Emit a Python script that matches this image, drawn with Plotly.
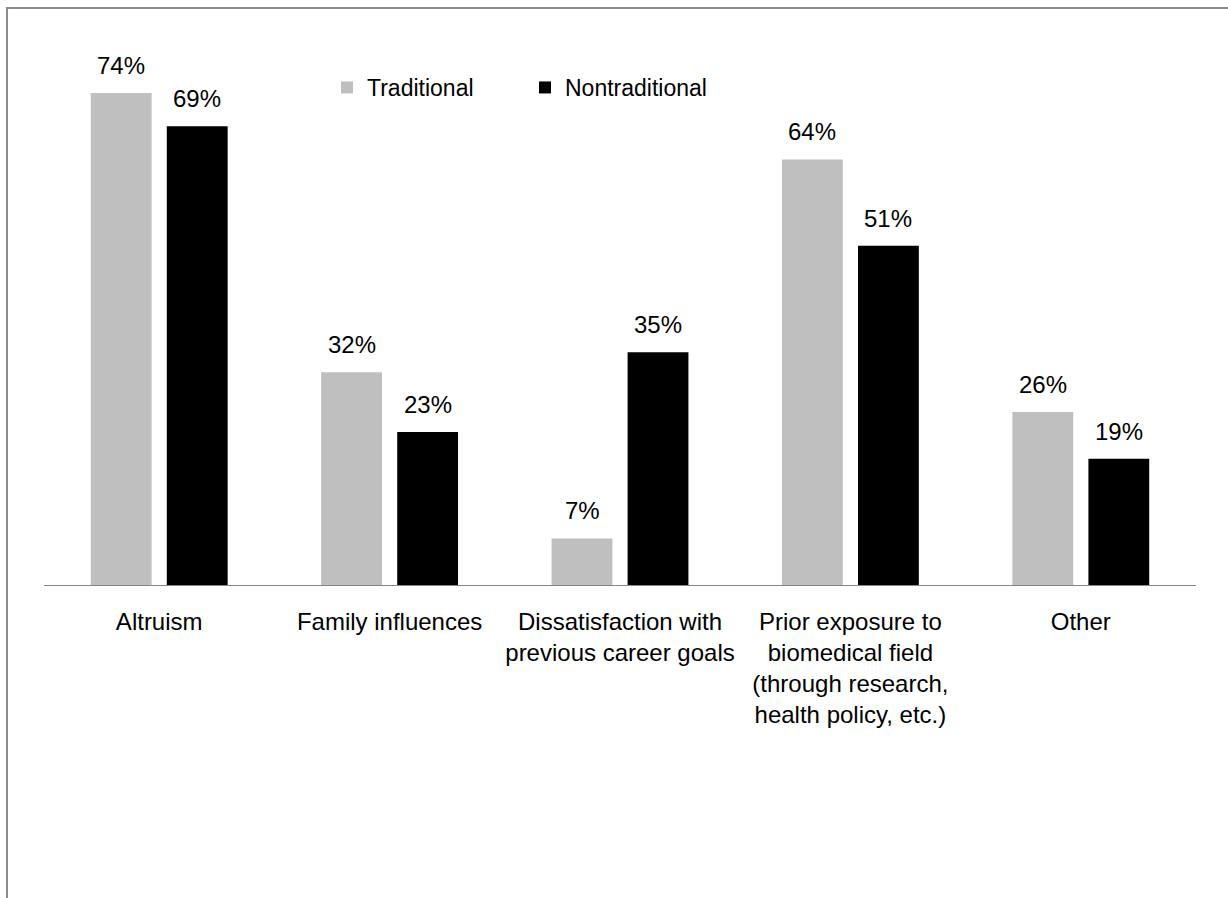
import plotly.graph_objects as go

# Reasons for choosing medicine, by applicant pathway
categories = [
    "Altruism",
    "Family influences",
    "Dissatisfaction with<br>previous career goals",
    "Prior exposure to<br>biomedical field<br>(through research,<br>health policy, etc.)",
    "Other",
]
traditional = [74, 32, 7, 64, 26]
nontraditional = [69, 23, 35, 51, 19]

FONT = "Liberation Sans, Arial, sans-serif"
FS = 24

fig = go.Figure()
fig.add_trace(go.Bar(name="Traditional", x=categories, y=traditional,
                     marker=dict(color="#BFBFBF", line=dict(width=0))))
fig.add_trace(go.Bar(name="Nontraditional", x=categories, y=nontraditional,
                     marker=dict(color="#000000", line=dict(width=0))))

# value labels above each bar
for vals, shift in ((traditional, -38), (nontraditional, 38)):
    for cat, v in zip(categories, vals):
        fig.add_annotation(x=cat, y=v, text=f"{v}%", showarrow=False,
                           xref="x", yref="y", xshift=shift, yshift=12,
                           yanchor="bottom", font=dict(family=FONT, size=FS, color="#000"))

# outer chart frame
fig.add_shape(type="rect", xref="paper", yref="paper",
              x0=-0.0321, x1=1.06, y0=-0.7, y1=1.0846,
              line=dict(color="#8C8C8C", width=2), fillcolor="rgba(0,0,0,0)", layer="below")

fig.update_layout(
    width=1228, height=898,
    margin=dict(l=44, r=32, t=53, b=313),
    paper_bgcolor="white", plot_bgcolor="white",
    barmode="group", bargap=0.34, bargroupgap=0.2,
    font=dict(family=FONT, size=FS, color="#000"),
    showlegend=True,
    legend=dict(orientation="h", x=(327 - 44) / 1152, xanchor="left",
                y=(585 - 87.5) / 532, yanchor="middle",
                entrywidth=153, entrywidthmode="pixels",
                font=dict(family=FONT, size=23, color="#000"),
                bgcolor="rgba(0,0,0,0)", traceorder="normal"),
    xaxis=dict(showline=True, linecolor="#868686", linewidth=1, ticks="",
               showgrid=False, zeroline=False, tickangle=0,
               tickfont=dict(family=FONT, size=FS), ticklabelstandoff=15),
    yaxis=dict(range=[0, 80], visible=False, showgrid=False, zeroline=False),
)

fig.write_html("out.html")
